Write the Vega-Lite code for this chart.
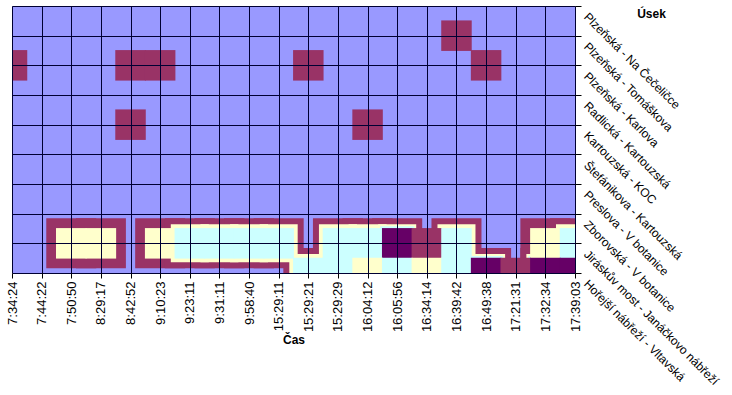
{
  "$schema": "https://vega.github.io/schema/vega-lite/v6.json",
  "width": 563,
  "height": 267,
  "autosize": {"type": "none"},
  "padding": {"left": 12, "top": 6, "right": 157, "bottom": 122},
  "background": "#ffffff",
  "config": {"view": {"fill": "#9999FF", "stroke": null}},
  "data": {"values": [
    {"cas":"7:34:24","usek":"Plzeňská - Na Čečeličce","v":2},{"cas":"7:44:22","usek":"Plzeňská - Na Čečeličce","v":2},{"cas":"7:50:50","usek":"Plzeňská - Na Čečeličce","v":3},{"cas":"8:29:17","usek":"Plzeňská - Na Čečeličce","v":3},{"cas":"8:42:52","usek":"Plzeňská - Na Čečeličce","v":4},{"cas":"9:10:23","usek":"Plzeňská - Na Čečeličce","v":3},{"cas":"9:23:11","usek":"Plzeňská - Na Čečeličce","v":2},{"cas":"9:31:11","usek":"Plzeňská - Na Čečeličce","v":2},{"cas":"9:58:40","usek":"Plzeňská - Na Čečeličce","v":3},{"cas":"15:29:11","usek":"Plzeňská - Na Čečeličce","v":4},{"cas":"15:29:21","usek":"Plzeňská - Na Čečeličce","v":5},{"cas":"15:29:29","usek":"Plzeňská - Na Čečeličce","v":5},{"cas":"16:04:12","usek":"Plzeňská - Na Čečeličce","v":9.6},{"cas":"16:05:56","usek":"Plzeňská - Na Čečeličce","v":5},{"cas":"16:34:14","usek":"Plzeňská - Na Čečeličce","v":4},{"cas":"16:39:42","usek":"Plzeňská - Na Čečeličce","v":6},{"cas":"16:49:38","usek":"Plzeňská - Na Čečeličce","v":4},{"cas":"17:21:31","usek":"Plzeňská - Na Čečeličce","v":3},{"cas":"17:32:34","usek":"Plzeňská - Na Čečeličce","v":2},{"cas":"17:39:03","usek":"Plzeňská - Na Čečeličce","v":2},
    {"cas":"7:34:24","usek":"Plzeňská - Tomáškova","v":4},{"cas":"7:44:22","usek":"Plzeňská - Tomáškova","v":3},{"cas":"7:50:50","usek":"Plzeňská - Tomáškova","v":3},{"cas":"8:29:17","usek":"Plzeňská - Tomáškova","v":5},{"cas":"8:42:52","usek":"Plzeňská - Tomáškova","v":7},{"cas":"9:10:23","usek":"Plzeňská - Tomáškova","v":6},{"cas":"9:23:11","usek":"Plzeňská - Tomáškova","v":3},{"cas":"9:31:11","usek":"Plzeňská - Tomáškova","v":2},{"cas":"9:58:40","usek":"Plzeňská - Tomáškova","v":3},{"cas":"15:29:11","usek":"Plzeňská - Tomáškova","v":4},{"cas":"15:29:21","usek":"Plzeňská - Tomáškova","v":6},{"cas":"15:29:29","usek":"Plzeňská - Tomáškova","v":5},{"cas":"16:04:12","usek":"Plzeňská - Tomáškova","v":6},{"cas":"16:05:56","usek":"Plzeňská - Tomáškova","v":5},{"cas":"16:34:14","usek":"Plzeňská - Tomáškova","v":5},{"cas":"16:39:42","usek":"Plzeňská - Tomáškova","v":10.6},{"cas":"16:49:38","usek":"Plzeňská - Tomáškova","v":7},{"cas":"17:21:31","usek":"Plzeňská - Tomáškova","v":4},{"cas":"17:32:34","usek":"Plzeňská - Tomáškova","v":3},{"cas":"17:39:03","usek":"Plzeňská - Tomáškova","v":2},
    {"cas":"7:34:24","usek":"Plzeňská - Karlova","v":12},{"cas":"7:44:22","usek":"Plzeňská - Karlova","v":6},{"cas":"7:50:50","usek":"Plzeňská - Karlova","v":4},{"cas":"8:29:17","usek":"Plzeňská - Karlova","v":9.9},{"cas":"8:42:52","usek":"Plzeňská - Karlova","v":13},{"cas":"9:10:23","usek":"Plzeňská - Karlova","v":12},{"cas":"9:23:11","usek":"Plzeňská - Karlova","v":5},{"cas":"9:31:11","usek":"Plzeňská - Karlova","v":3},{"cas":"9:58:40","usek":"Plzeňská - Karlova","v":3},{"cas":"15:29:11","usek":"Plzeňská - Karlova","v":6},{"cas":"15:29:21","usek":"Plzeňská - Karlova","v":10.4},{"cas":"15:29:29","usek":"Plzeňská - Karlova","v":6},{"cas":"16:04:12","usek":"Plzeňská - Karlova","v":5},{"cas":"16:05:56","usek":"Plzeňská - Karlova","v":5},{"cas":"16:34:14","usek":"Plzeňská - Karlova","v":6},{"cas":"16:39:42","usek":"Plzeňská - Karlova","v":8},{"cas":"16:49:38","usek":"Plzeňská - Karlova","v":12},{"cas":"17:21:31","usek":"Plzeňská - Karlova","v":6},{"cas":"17:32:34","usek":"Plzeňská - Karlova","v":3},{"cas":"17:39:03","usek":"Plzeňská - Karlova","v":2},
    {"cas":"7:34:24","usek":"Radlická - Kartouzská","v":5},{"cas":"7:44:22","usek":"Radlická - Kartouzská","v":3},{"cas":"7:50:50","usek":"Radlická - Kartouzská","v":3},{"cas":"8:29:17","usek":"Radlická - Kartouzská","v":5},{"cas":"8:42:52","usek":"Radlická - Kartouzská","v":8},{"cas":"9:10:23","usek":"Radlická - Kartouzská","v":6},{"cas":"9:23:11","usek":"Radlická - Kartouzská","v":3},{"cas":"9:31:11","usek":"Radlická - Kartouzská","v":2},{"cas":"9:58:40","usek":"Radlická - Kartouzská","v":3},{"cas":"15:29:11","usek":"Radlická - Kartouzská","v":4},{"cas":"15:29:21","usek":"Radlická - Kartouzská","v":6},{"cas":"15:29:29","usek":"Radlická - Kartouzská","v":5},{"cas":"16:04:12","usek":"Radlická - Kartouzská","v":7},{"cas":"16:05:56","usek":"Radlická - Kartouzská","v":5},{"cas":"16:34:14","usek":"Radlická - Kartouzská","v":4},{"cas":"16:39:42","usek":"Radlická - Kartouzská","v":5},{"cas":"16:49:38","usek":"Radlická - Kartouzská","v":6},{"cas":"17:21:31","usek":"Radlická - Kartouzská","v":4},{"cas":"17:32:34","usek":"Radlická - Kartouzská","v":3},{"cas":"17:39:03","usek":"Radlická - Kartouzská","v":2},
    {"cas":"7:34:24","usek":"Kartouzská - KOC","v":3},{"cas":"7:44:22","usek":"Kartouzská - KOC","v":2},{"cas":"7:50:50","usek":"Kartouzská - KOC","v":3},{"cas":"8:29:17","usek":"Kartouzská - KOC","v":6},{"cas":"8:42:52","usek":"Kartouzská - KOC","v":10.8},{"cas":"9:10:23","usek":"Kartouzská - KOC","v":5},{"cas":"9:23:11","usek":"Kartouzská - KOC","v":3},{"cas":"9:31:11","usek":"Kartouzská - KOC","v":2},{"cas":"9:58:40","usek":"Kartouzská - KOC","v":3},{"cas":"15:29:11","usek":"Kartouzská - KOC","v":4},{"cas":"15:29:21","usek":"Kartouzská - KOC","v":5},{"cas":"15:29:29","usek":"Kartouzská - KOC","v":6},{"cas":"16:04:12","usek":"Kartouzská - KOC","v":11},{"cas":"16:05:56","usek":"Kartouzská - KOC","v":6},{"cas":"16:34:14","usek":"Kartouzská - KOC","v":4},{"cas":"16:39:42","usek":"Kartouzská - KOC","v":4},{"cas":"16:49:38","usek":"Kartouzská - KOC","v":5},{"cas":"17:21:31","usek":"Kartouzská - KOC","v":3},{"cas":"17:32:34","usek":"Kartouzská - KOC","v":2},{"cas":"17:39:03","usek":"Kartouzská - KOC","v":2},
    {"cas":"7:34:24","usek":"Štefánikova - Kartouzská","v":4},{"cas":"7:44:22","usek":"Štefánikova - Kartouzská","v":3},{"cas":"7:50:50","usek":"Štefánikova - Kartouzská","v":3},{"cas":"8:29:17","usek":"Štefánikova - Kartouzská","v":4},{"cas":"8:42:52","usek":"Štefánikova - Kartouzská","v":5},{"cas":"9:10:23","usek":"Štefánikova - Kartouzská","v":4},{"cas":"9:23:11","usek":"Štefánikova - Kartouzská","v":3},{"cas":"9:31:11","usek":"Štefánikova - Kartouzská","v":2},{"cas":"9:58:40","usek":"Štefánikova - Kartouzská","v":3},{"cas":"15:29:11","usek":"Štefánikova - Kartouzská","v":3},{"cas":"15:29:21","usek":"Štefánikova - Kartouzská","v":4},{"cas":"15:29:29","usek":"Štefánikova - Kartouzská","v":5},{"cas":"16:04:12","usek":"Štefánikova - Kartouzská","v":6},{"cas":"16:05:56","usek":"Štefánikova - Kartouzská","v":5},{"cas":"16:34:14","usek":"Štefánikova - Kartouzská","v":4},{"cas":"16:39:42","usek":"Štefánikova - Kartouzská","v":6},{"cas":"16:49:38","usek":"Štefánikova - Kartouzská","v":9.8},{"cas":"17:21:31","usek":"Štefánikova - Kartouzská","v":5},{"cas":"17:32:34","usek":"Štefánikova - Kartouzská","v":3},{"cas":"17:39:03","usek":"Štefánikova - Kartouzská","v":2},
    {"cas":"7:34:24","usek":"Preslova - V botanice","v":9.4},{"cas":"7:44:22","usek":"Preslova - V botanice","v":4},{"cas":"7:50:50","usek":"Preslova - V botanice","v":3},{"cas":"8:29:17","usek":"Preslova - V botanice","v":3},{"cas":"8:42:52","usek":"Preslova - V botanice","v":4},{"cas":"9:10:23","usek":"Preslova - V botanice","v":4},{"cas":"9:23:11","usek":"Preslova - V botanice","v":3},{"cas":"9:31:11","usek":"Preslova - V botanice","v":3},{"cas":"9:58:40","usek":"Preslova - V botanice","v":4},{"cas":"15:29:11","usek":"Preslova - V botanice","v":5},{"cas":"15:29:21","usek":"Preslova - V botanice","v":4},{"cas":"15:29:29","usek":"Preslova - V botanice","v":5},{"cas":"16:04:12","usek":"Preslova - V botanice","v":5},{"cas":"16:05:56","usek":"Preslova - V botanice","v":4},{"cas":"16:34:14","usek":"Preslova - V botanice","v":4},{"cas":"16:39:42","usek":"Preslova - V botanice","v":5},{"cas":"16:49:38","usek":"Preslova - V botanice","v":4},{"cas":"17:21:31","usek":"Preslova - V botanice","v":3},{"cas":"17:32:34","usek":"Preslova - V botanice","v":3},{"cas":"17:39:03","usek":"Preslova - V botanice","v":3},
    {"cas":"7:34:24","usek":"Zborovská - V botanice","v":3},{"cas":"7:44:22","usek":"Zborovská - V botanice","v":5},{"cas":"7:50:50","usek":"Zborovská - V botanice","v":7},{"cas":"8:29:17","usek":"Zborovská - V botanice","v":8},{"cas":"8:42:52","usek":"Zborovská - V botanice","v":6},{"cas":"9:10:23","usek":"Zborovská - V botanice","v":7},{"cas":"9:23:11","usek":"Zborovská - V botanice","v":8},{"cas":"9:31:11","usek":"Zborovská - V botanice","v":8},{"cas":"9:58:40","usek":"Zborovská - V botanice","v":8},{"cas":"15:29:11","usek":"Zborovská - V botanice","v":8},{"cas":"15:29:21","usek":"Zborovská - V botanice","v":6},{"cas":"15:29:29","usek":"Zborovská - V botanice","v":8},{"cas":"16:04:12","usek":"Zborovská - V botanice","v":8},{"cas":"16:05:56","usek":"Zborovská - V botanice","v":8},{"cas":"16:34:14","usek":"Zborovská - V botanice","v":7},{"cas":"16:39:42","usek":"Zborovská - V botanice","v":9.5},{"cas":"16:49:38","usek":"Zborovská - V botanice","v":6},{"cas":"17:21:31","usek":"Zborovská - V botanice","v":5},{"cas":"17:32:34","usek":"Zborovská - V botanice","v":8},{"cas":"17:39:03","usek":"Zborovská - V botanice","v":8},
    {"cas":"7:34:24","usek":"Jiráskův most - Janáčkovo nábřeží","v":2},{"cas":"7:44:22","usek":"Jiráskův most - Janáčkovo nábřeží","v":5},{"cas":"7:50:50","usek":"Jiráskův most - Janáčkovo nábřeží","v":25},{"cas":"8:29:17","usek":"Jiráskův most - Janáčkovo nábřeží","v":27},{"cas":"8:42:52","usek":"Jiráskův most - Janáčkovo nábřeží","v":9.6},{"cas":"9:10:23","usek":"Jiráskův most - Janáčkovo nábřeží","v":24},{"cas":"9:23:11","usek":"Jiráskův most - Janáčkovo nábřeží","v":32},{"cas":"9:31:11","usek":"Jiráskův most - Janáčkovo nábřeží","v":31},{"cas":"9:58:40","usek":"Jiráskův most - Janáčkovo nábřeží","v":33},{"cas":"15:29:11","usek":"Jiráskův most - Janáčkovo nábřeží","v":38},{"cas":"15:29:21","usek":"Jiráskův most - Janáčkovo nábřeží","v":9},{"cas":"15:29:29","usek":"Jiráskův most - Janáčkovo nábřeží","v":32},{"cas":"16:04:12","usek":"Jiráskův most - Janáčkovo nábřeží","v":31},{"cas":"16:05:56","usek":"Jiráskův most - Janáčkovo nábřeží","v":42},{"cas":"16:34:14","usek":"Jiráskův most - Janáčkovo nábřeží","v":18},{"cas":"16:39:42","usek":"Jiráskův most - Janáčkovo nábřeží","v":34},{"cas":"16:49:38","usek":"Jiráskův most - Janáčkovo nábřeží","v":9.5},{"cas":"17:21:31","usek":"Jiráskův most - Janáčkovo nábřeží","v":8},{"cas":"17:32:34","usek":"Jiráskův most - Janáčkovo nábřeží","v":28},{"cas":"17:39:03","usek":"Jiráskův most - Janáčkovo nábřeží","v":32},
    {"cas":"7:34:24","usek":"Hořejší nábřeží - Vltavská","v":1},{"cas":"7:44:22","usek":"Hořejší nábřeží - Vltavská","v":2},{"cas":"7:50:50","usek":"Hořejší nábřeží - Vltavská","v":4},{"cas":"8:29:17","usek":"Hořejší nábřeží - Vltavská","v":5},{"cas":"8:42:52","usek":"Hořejší nábřeží - Vltavská","v":3},{"cas":"9:10:23","usek":"Hořejší nábřeží - Vltavská","v":4},{"cas":"9:23:11","usek":"Hořejší nábřeží - Vltavská","v":5},{"cas":"9:31:11","usek":"Hořejší nábřeží - Vltavská","v":5},{"cas":"9:58:40","usek":"Hořejší nábřeží - Vltavská","v":6},{"cas":"15:29:11","usek":"Hořejší nábřeží - Vltavská","v":9},{"cas":"15:29:21","usek":"Hořejší nábřeží - Vltavská","v":31},{"cas":"15:29:29","usek":"Hořejší nábřeží - Vltavská","v":33},{"cas":"16:04:12","usek":"Hořejší nábřeží - Vltavská","v":25},{"cas":"16:05:56","usek":"Hořejší nábřeží - Vltavská","v":36},{"cas":"16:34:14","usek":"Hořejší nábřeží - Vltavská","v":25},{"cas":"16:39:42","usek":"Hořejší nábřeží - Vltavská","v":34},{"cas":"16:49:38","usek":"Hořejší nábřeží - Vltavská","v":46},{"cas":"17:21:31","usek":"Hořejší nábřeží - Vltavská","v":15},{"cas":"17:32:34","usek":"Hořejší nábřeží - Vltavská","v":42},{"cas":"17:39:03","usek":"Hořejší nábřeží - Vltavská","v":41}
  ]},
  "encoding": {
    "x": {
      "field": "cas", "type": "ordinal",
      "scale": {"type": "point", "padding": 0, "domain": ["7:34:24","7:44:22","7:50:50","8:29:17","8:42:52","9:10:23","9:23:11","9:31:11","9:58:40","15:29:11","15:29:21","15:29:29","16:04:12","16:05:56","16:34:14","16:39:42","16:49:38","17:21:31","17:32:34","17:39:03"]},
      "axis": {
        "title": "Čas", "labelAngle": -90, "grid": true, "gridColor": "#000033", "gridOpacity": 1, "gridWidth": 1,
        "tickSize": 5, "tickColor": "#000000", "domain": false, "labelOverlap": false,
        "labelFont": "Liberation Sans", "labelFontSize": 13, "labelColor": "#000000", "labelPadding": 3,
        "titleFont": "Liberation Sans", "titleFontSize": 12, "titleFontWeight": "bold", "titleColor": "#000000", "titlePadding": 3,
        "zindex": 1
      }
    },
    "y": {
      "field": "usek", "type": "ordinal",
      "scale": {"type": "point", "padding": 0, "domain": ["Plzeňská - Na Čečeličce","Plzeňská - Tomáškova","Plzeňská - Karlova","Radlická - Kartouzská","Kartouzská - KOC","Štefánikova - Kartouzská","Preslova - V botanice","Zborovská - V botanice","Jiráskův most - Janáčkovo nábřeží","Hořejší nábřeží - Vltavská"]},
      "axis": {
        "orient": "right", "title": "Úsek", "labelAngle": 45, "labelAlign": "left", "labelBaseline": "top",
        "grid": true, "gridColor": "#000033", "gridOpacity": 1, "gridWidth": 1,
        "tickSize": 6, "tickColor": "#000000", "domain": false, "labelOverlap": false, "labelBound": false, "labelLimit": 400,
        "labelFont": "Liberation Sans", "labelFontSize": 12, "labelColor": "#000000", "labelPadding": 8, "labelOffset": 5,
        "titleFont": "Liberation Sans", "titleFontSize": 12, "titleFontWeight": "bold", "titleColor": "#000000",
        "titleAngle": 0, "titleX": 76, "titleY": 7, "titleAlign": "center", "titleBaseline": "middle",
        "zindex": 1
      }
    }
  },
  "layer": [
    {"transform": [{"filter": "datum.v >= 20"}], "mark": {"type": "square", "size": 2500, "filled": true, "opacity": 1, "color": "#993366", "clip": true}},
    {"transform": [{"filter": "datum.v >= 30"}], "mark": {"type": "square", "size": 1444, "filled": true, "opacity": 1, "color": "#FFFFCC", "clip": true}},
    {"transform": [{"filter": "datum.v >= 40"}], "mark": {"type": "square", "size": 1156, "filled": true, "opacity": 1, "color": "#CCFFFF", "clip": true}},
    {
      "transform": [{"filter": "datum.v >= 10"}],
      "mark": {"type": "square", "size": 930, "filled": true, "opacity": 1, "strokeWidth": 0, "clip": true},
      "encoding": {
        "color": {
          "field": "v", "type": "quantitative",
          "scale": {"type": "threshold", "domain": [10, 20, 30, 40, 50], "range": ["#9999FF", "#993366", "#FFFFCC", "#CCFFFF", "#660066", "#FF8080"]},
          "legend": null
        }
      }
    }
  ]
}
